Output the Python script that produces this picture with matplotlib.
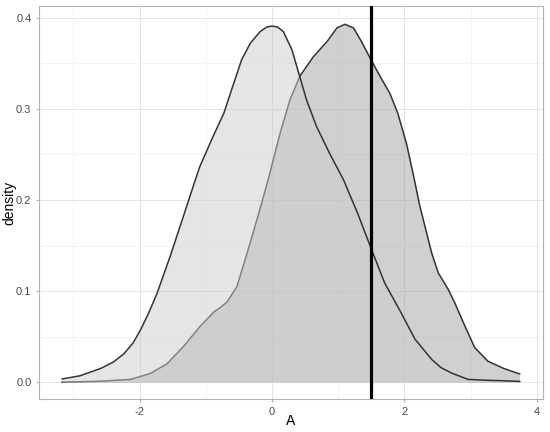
import matplotlib
matplotlib.use("Agg")
import matplotlib.pyplot as plt
from matplotlib.ticker import MultipleLocator

plt.rcParams['font.family'] = ['Liberation Sans', 'DejaVu Sans']
plt.rcParams['axes.unicode_minus'] = False

# density curve of the first group (lighter, left)
x1 = [-3.17, -2.9, -2.59, -2.4, -2.24, -2.1, -1.99, -1.87, -1.74, -1.54, -1.34,
      -1.16, -1.09, -0.89, -0.73, -0.58, -0.46, -0.33, -0.18, -0.08, 0.0, 0.08,
      0.17, 0.30, 0.42, 0.52, 0.67, 0.87, 1.08, 1.30, 1.50, 1.70, 1.95, 2.16,
      2.41, 2.55, 2.71, 2.96, 3.26, 3.5, 3.74]
y1 = [0.0035, 0.007, 0.015, 0.022, 0.031, 0.043, 0.057, 0.075, 0.097, 0.138, 0.182,
      0.222, 0.237, 0.270, 0.295, 0.328, 0.354, 0.372, 0.385, 0.390, 0.391, 0.390,
      0.385, 0.365, 0.335, 0.310, 0.281, 0.251, 0.222, 0.184, 0.146, 0.109, 0.076, 0.047,
      0.025, 0.016, 0.010, 0.003, 0.002, 0.0015, 0.0008]

# density curve of the second group (darker, right)
x2 = [-3.17, -2.59, -2.14, -1.84, -1.59, -1.34, -1.09, -0.88, -0.78, -0.68, -0.53,
      -0.38, -0.23, -0.06, 0.12, 0.27, 0.42, 0.62, 0.83, 0.98, 1.10, 1.23, 1.35,
      1.48, 1.63, 1.78, 1.90, 2.03, 2.13, 2.23, 2.41, 2.51, 2.66, 2.76, 2.91,
      3.06, 3.26, 3.5, 3.74]
y2 = [0.0, 0.001, 0.003, 0.0095, 0.020, 0.039, 0.061, 0.077, 0.082, 0.088, 0.105,
      0.141, 0.178, 0.222, 0.273, 0.310, 0.336, 0.357, 0.374, 0.389, 0.393, 0.389, 0.374,
      0.356, 0.336, 0.317, 0.295, 0.262, 0.229, 0.194, 0.142, 0.120, 0.102, 0.087, 0.062,
      0.038, 0.023, 0.015, 0.009]

vline_x = 1.5

fig = plt.figure(figsize=(5.5, 4.32), dpi=100)
ax = fig.add_axes([0.071, 0.076, 0.916, 0.910])

ax.fill_between(x2, y2, 0, color='#a2a2a2', alpha=0.5, linewidth=0, zorder=2)
ax.plot(x2, y2, color='#333333', linewidth=1.1, zorder=2)
ax.fill_between(x1, y1, 0, color='#cdcdcd', alpha=0.5, linewidth=0, zorder=3)
ax.plot(x1, y1, color='#333333', linewidth=1.1, zorder=3)

ax.axvline(vline_x, color='black', linewidth=2.3, zorder=4)

ax.set_xlim(-3.52, 4.09)
ax.set_ylim(-0.0187, 0.413)

ax.xaxis.set_major_locator(MultipleLocator(2))
ax.xaxis.set_minor_locator(MultipleLocator(1))
ax.yaxis.set_major_locator(MultipleLocator(0.1))
ax.yaxis.set_minor_locator(MultipleLocator(0.05))
ax.yaxis.set_major_formatter(lambda v, p: f"{v:.1f}")

ax.grid(which='major', color='#e3e3e3', linewidth=0.7, zorder=0)
ax.grid(which='minor', color='#eeeeee', linewidth=0.45, zorder=0)
ax.set_axisbelow(True)

for s in ax.spines.values():
    s.set_color('#b3b3b3')
    s.set_linewidth(0.8)

ax.tick_params(which='major', length=2.5, color='#b3b3b3', labelsize=8,
               labelcolor='#4d4d4d', pad=3)
ax.tick_params(which='minor', length=0)

ax.set_xlabel('A', fontsize=10)
ax.set_ylabel('density', fontsize=10)
ax.xaxis.set_label_coords(0.5, -0.056)
ax.yaxis.set_label_coords(-0.058, 0.5)
ax.xaxis.label.set_va('center')
ax.yaxis.label.set_va('center')

fig.savefig('out.png', dpi=100)
